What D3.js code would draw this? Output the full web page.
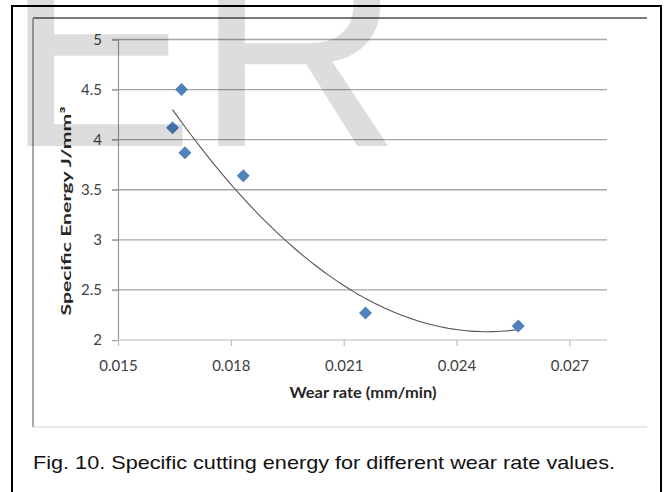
<!DOCTYPE html>
<html>
<head>
<meta charset="utf-8">
<script src="https://cdn.jsdelivr.net/npm/d3@7"></script>
<style>
  body { margin: 0; background: #fff; }
  svg { display: block; }
  .tick text { font-family: Lato, "Open Sans", sans-serif; font-size: 15px; fill: #404040; }
</style>
</head>
<body>
<div id="chart-area"></div>
<script>
// wear rate (mm/min) vs specific cutting energy (J/mm3)
const wearRate = [0.01645, 0.01669, 0.01678, 0.01833, 0.02158, 0.02564];
const specificEnergy = [4.12, 4.50, 3.87, 3.64, 2.27, 2.14];

const xTicks = [0.015, 0.018, 0.021, 0.024, 0.027];
const yTicks = [2, 2.5, 3, 3.5, 4, 4.5, 5];

const W = 664, H = 492;

const svg = d3.select('#chart-area').append('svg')
  .attr('width', W)
  .attr('height', H);

svg.append('rect').attr('width', W).attr('height', H).attr('fill', '#fff');

// outer black frame (no bottom edge visible)
svg.append('path')
  .attr('d', 'M12,492 L12,6 L661,6 L661,492')
  .attr('fill', 'none')
  .attr('stroke', '#000')
  .attr('stroke-width', 2);

// chart area frame
svg.append('line').attr('x1', 33).attr('x2', 647).attr('y1', 18).attr('y2', 18)
  .attr('stroke', '#7a7a7a').attr('stroke-width', 2.2);
svg.append('line').attr('x1', 33).attr('x2', 33).attr('y1', 18).attr('y2', 427)
  .attr('stroke', '#a8a8a8').attr('stroke-width', 2);
svg.append('line').attr('x1', 33).attr('x2', 647).attr('y1', 427).attr('y2', 427)
  .attr('stroke', '#e0e0e0').attr('stroke-width', 1.5);

// scales
const x = d3.scaleLinear().domain([0.015, 0.028]).range([118, 607]);
const y = d3.scaleLinear().domain([2, 5]).range([340, 39.5]);

// gridlines
svg.append('g')
  .selectAll('line')
  .data(yTicks.filter(d => d > 2))
  .enter().append('line')
    .attr('x1', x(0.015) - 6)
    .attr('x2', x(0.028))
    .attr('y1', d => y(d))
    .attr('y2', d => y(d))
    .attr('stroke', '#a6a6a6')
    .attr('stroke-width', 1.4);

// y axis
const yAxisCall = d3.axisLeft(y)
  .tickValues(yTicks)
  .tickSize(6)
  .tickPadding(10)
  .tickFormat(d3.format('~g'));
const yAxisGroup = svg.append('g')
  .attr('transform', `translate(${x(0.015)},0)`)
  .call(yAxisCall);
yAxisGroup.select('.domain').attr('stroke', '#999').attr('stroke-width', 1.2);
yAxisGroup.selectAll('.tick line').attr('stroke', '#a6a6a6').attr('stroke-width', 1.4);

// x axis
const xAxisCall = d3.axisBottom(x)
  .tickValues(xTicks)
  .tickSize(6)
  .tickPadding(14)
  .tickFormat(d3.format('.3f'));
const xAxisGroup = svg.append('g')
  .attr('transform', `translate(0,${y(2)})`)
  .call(xAxisCall);
xAxisGroup.select('.domain')
  .attr('d', `M${x(0.015)},0H${x(0.028)}`)
  .attr('stroke', '#d0d0d0').attr('stroke-width', 1.6);
xAxisGroup.selectAll('.tick line').attr('stroke', '#bdbdbd').attr('stroke-width', 1.2);

// axis titles
svg.append('text')
  .attr('x', 363)
  .attr('y', 398)
  .attr('text-anchor', 'middle')
  .attr('font-family', 'Lato, sans-serif')
  .attr('font-weight', 'bold')
  .attr('font-size', '15px')
  .attr('textLength', 147)
  .attr('lengthAdjust', 'spacingAndGlyphs')
  .attr('fill', '#262626')
  .text('Wear rate (mm/min)');

svg.append('text')
  .attr('transform', 'translate(71,211) rotate(-90)')
  .attr('text-anchor', 'middle')
  .attr('font-family', 'Lato, sans-serif')
  .attr('font-weight', 'bold')
  .attr('font-size', '14px')
  .attr('textLength', 209)
  .attr('lengthAdjust', 'spacingAndGlyphs')
  .attr('fill', '#262626')
  .text('Specific Energy J/mm³');

// polynomial (order 2) trendline, least squares on the points
const x0 = 0.015, k = 1000;
const us = wearRate.map(v => (v - x0) * k);
const S = [0, 0, 0, 0, 0], T = [0, 0, 0];
us.forEach((u, i) => {
  for (let p = 0; p < 5; p++) S[p] += Math.pow(u, p);
  for (let p = 0; p < 3; p++) T[p] += Math.pow(u, p) * specificEnergy[i];
});
function solve3(M, b) {
  const det = m => m[0][0] * (m[1][1] * m[2][2] - m[1][2] * m[2][1])
    - m[0][1] * (m[1][0] * m[2][2] - m[1][2] * m[2][0])
    + m[0][2] * (m[1][0] * m[2][1] - m[1][1] * m[2][0]);
  const D = det(M);
  return [0, 1, 2].map(c => det(M.map((row, r) => row.map((v, j) => j === c ? b[r] : v))) / D);
}
const coef = solve3([[S[0], S[1], S[2]], [S[1], S[2], S[3]], [S[2], S[3], S[4]]], T);
const fit = v => { const u = (v - x0) * k; return coef[0] + coef[1] * u + coef[2] * u * u; };

const xmin = d3.min(wearRate), xmax = d3.max(wearRate);
const trend = d3.range(0, 81).map(i => xmin + (xmax - xmin) * i / 80);
svg.append('path')
  .datum(trend)
  .attr('fill', 'none')
  .attr('stroke', '#555')
  .attr('stroke-width', 1.1)
  .attr('d', d3.line().x(d => x(d)).y(d => y(fit(d))));

// points
const side = 9.2;
svg.append('g')
  .selectAll('rect')
  .data(wearRate)
  .enter().append('rect')
    .attr('x', -side / 2)
    .attr('y', -side / 2)
    .attr('width', side)
    .attr('height', side)
    .attr('fill', '#4f81bd')
    .attr('transform', (d, i) => `translate(${x(d)},${y(specificEnergy[i])}) rotate(45)`);

// caption
svg.append('text')
  .attr('x', 33)
  .attr('y', 469)
  .attr('font-family', '"Liberation Sans", Arial, sans-serif')
  .attr('font-size', '19px')
  .attr('textLength', 582)
  .attr('lengthAdjust', 'spacingAndGlyphs')
  .attr('fill', '#111')
  .text('Fig. 10. Specific cutting energy for different wear rate values.');

// watermark
svg.append('text')
  .attr('x', 4)
  .attr('y', 146)
  .attr('font-family', '"Liberation Sans", Arial, sans-serif')
  .attr('font-size', '286px')
  .attr('fill', '#000')
  .attr('fill-opacity', 0.135)
  .text('ER');
</script>
</body>
</html>
